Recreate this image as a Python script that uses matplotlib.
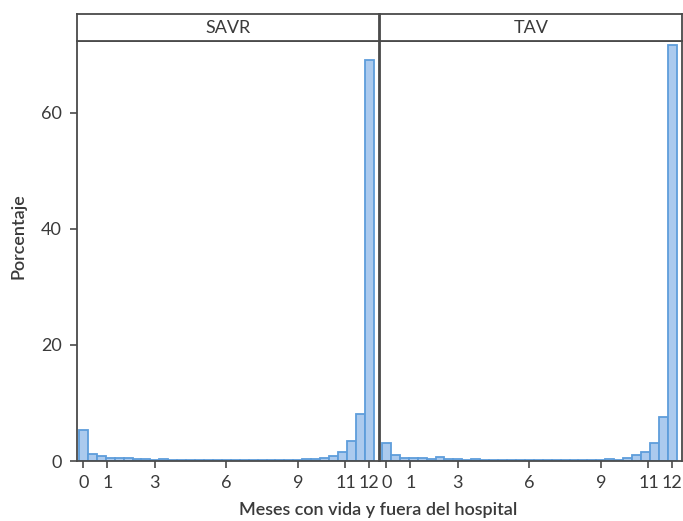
import matplotlib as mpl
mpl.use('Agg')
import matplotlib.pyplot as plt
import numpy as np

plt.rcParams['font.family'] = ['Lato', 'DejaVu Sans']

# panels
panels = ['SAVR', 'TAV']

# bin centres (months) and percentage per bin
bin_centers = np.linspace(0, 12, 33)
savr_pct = [5.35, 1.2, 0.92, 0.46, 0.46, 0.46, 0.35, 0.35, 0.23, 0.35, 0.17,
            0.12, 0.17, 0.17, 0.12, 0.12, 0.23, 0.23, 0.17, 0.12, 0.12, 0.12,
            0.12, 0.17, 0.17, 0.29, 0.35, 0.5, 0.8, 1.5, 3.5, 8.1, 69.1]
tav_pct = [3.16, 0.98, 0.57, 0.57, 0.46, 0.35, 0.69, 0.35, 0.35, 0.23, 0.29,
           0.23, 0.17, 0.17, 0.23, 0.17, 0.23, 0.17, 0.12, 0.1, 0.23, 0.17,
           0.23, 0.17, 0.17, 0.35, 0.12, 0.57, 1.0, 1.55, 3.05, 7.5, 71.7]

x_ticks = [0, 1, 3, 6, 9, 11, 12]
y_ticks = [0, 20, 40, 60]

fill = '#abcaee'
edge = '#5e9ddb'
dark = '#4a4a4a'
txt = '#3a3a3a'

fig = plt.figure(figsize=(6.83, 5.21), dpi=100)
W, H = 683, 521

def fx(px):
    return px / W

def fy(py):
    return 1 - py / H

lefts = [77, 380]
pw = 302
top, bottom = 41, 461
strip_top = 14
fs = 13

binw = bin_centers[1] - bin_centers[0]
for i, (name, vals) in enumerate(zip(panels, [savr_pct, tav_pct])):
    ax = fig.add_axes([fx(lefts[i]), fy(bottom), pw / W, (bottom - top) / H])
    ax.bar(bin_centers, vals, width=binw, color=fill, edgecolor=edge,
           linewidth=1.3, align='center')
    ax.set_xlim(-0.27, 12.41)
    ax.set_ylim(0, 72.4)
    ax.set_xticks(x_ticks)
    ax.set_xticklabels([str(t) for t in x_ticks], fontsize=fs, color=txt)
    ax.set_yticks(y_ticks)
    if i == 0:
        ax.set_yticklabels([str(t) for t in y_ticks], fontsize=fs, color=txt)
        ax.tick_params(axis='y', length=5, width=1.2, color=dark, pad=6)
    else:
        ax.tick_params(axis='y', length=0, labelleft=False)
    ax.tick_params(axis='x', length=5, width=1.2, color=dark, pad=5)
    for s in ax.spines.values():
        s.set_color(dark)
        s.set_linewidth(1.3)

    # strip
    sax = fig.add_axes([fx(lefts[i]), fy(top), pw / W, (top - strip_top) / H])
    sax.set_xticks([])
    sax.set_yticks([])
    for s in sax.spines.values():
        s.set_color(dark)
        s.set_linewidth(1.3)
    sax.text(0.5, 0.47, name, ha='center', va='center', fontsize=fs,
             color=txt, transform=sax.transAxes)

fig.text(fx(378), fy(510), 'Meses con vida y fuera del hospital', ha='center',
         va='center', fontsize=fs, fontweight='semibold', color=txt)
fig.text(fx(18), fy(236), 'Porcentaje', ha='center', va='center',
         rotation=90, fontsize=fs, fontweight='semibold', color=txt)

plt.savefig('out.png', dpi=100)
